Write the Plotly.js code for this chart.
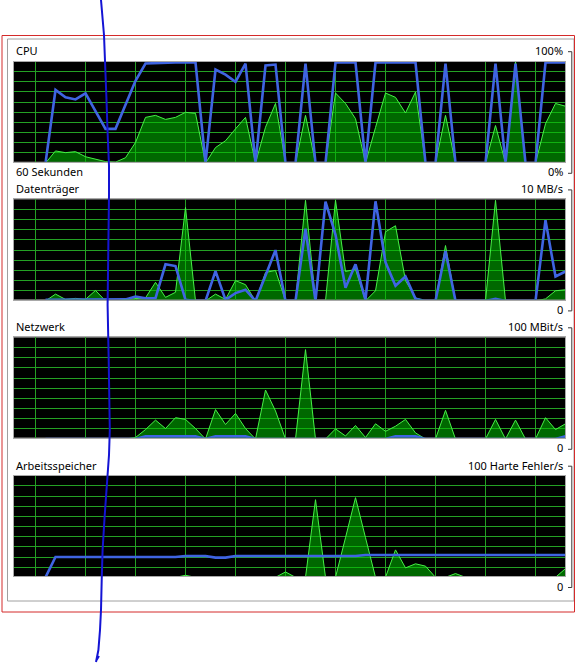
<!DOCTYPE html>
<html>
<head>
<meta charset="utf-8">
<script src="https://cdn.plot.ly/plotly-3.0.1.min.js"></script>
<style>
  html, body { margin: 0; padding: 0; background: #ffffff; }
  #chart { width: 576px; height: 663px; }
</style>
</head>
<body>
<div id="chart"></div>
<script>
// ---- data (one sample per second, newest on the right) ----
const seconds = [0,1,2,3,4,5,6,7,8,9,10,11,12,13,14,15,16,17,18,19,20,21,22,23,24,25,26,27,28,29,30,31,32,33,34,35,36,37,38,39,40,41,42,43,44,45,46,47,48,49,50,51,52];

const panelTitles = ['CPU', 'Datenträger', 'Netzwerk', 'Arbeitsspeicher'];
const panelMaxLabels = ['100%', '10 MB/s', '100 MBit/s', '100 Harte Fehler/s'];
const panelMinLabels = ['0%', '0', '0', '0'];
const timeLabel = '60 Sekunden';

// CPU: usage (green area) and maximum frequency (blue line), in %
const cpuUsage = [0,12,10.3,11.3,6.3,3.7,1.5,1,5.3,20.3,45,47,43,45,50,49,0,15.3,22,33.7,45,0,35.3,58.7,0,0,47,0,0,69,58.7,43.7,0,35,69,64.7,49.3,70,0,0,47,0,0,0,0,37,0,100,0,0,38.7,58.7,56];
const cpuMaxFreq = [0,72,64.7,62.7,68.7,51,33.7,33.7,57,81,98,98.5,98.5,99,99,99,0,92,87,80,98,0,96,97,0,0,98,0,0,99,99,99,0,99,99,99,99,99,0,0,98,0,0,0,0,98,0,98,0,0,99,99,99];

// Datenträger: disk I/O (green area) and highest active time (blue line), in % of scale
const diskIO = [0,6.7,1.5,2.5,1.5,10.3,0,0,1.5,2.5,3,18.3,3.5,8.5,92,0,0,6.7,1.5,20,16,0,28,30,0,0,99,0,0,99,29,31,0,10,68,74,20,3,0,0,54.5,0,0,0,0,99,0,0,0,0,2,10,11];
const diskActive = [1,1,1,1,1,1,1,1,1.5,4.3,2.7,2.7,36,34.3,1,0,0,29.3,1,7.7,11,0,25,50,0,0,71,0,97.7,65,13,36,1,98,38,15,24,2,0,0,49,0,0,0,0,2,0,0,0,0,79.5,24,29];

// Netzwerk: traffic (green area) and utilisation (blue line), in % of scale
const netTraffic = [0,0,0,0,0,0,0,0,0,1.5,9.3,18.6,10.3,21,19.3,10.3,0,29,14.3,25.2,10.3,0,48.2,27.6,0,0,88,0,0,10,3,13.3,1.5,15,7.6,12.6,19.3,6,0,0,28.2,0,0,0,0,19.3,0,18.6,0,0,21,9.3,15];
const netUtil = [0,0,0,0,0,0,0,0,0,0,2.6,2.6,2.8,3.2,3.2,2.6,0,2.6,2.6,2.6,2.6,0,0,0,0,0,0,0,0,0,0,0,0,0,0,2.8,2.8,2.6,0,0,0,0,0,0,0,0,0,0,0,0,0,0,2.6];

// Arbeitsspeicher: hard faults (green area) and used physical memory (blue line), in % of scale
const memHardFaults = [0,0,0,0,0,0,0,0,0,0,0,0,0,0,2,0,0,0,0,0,0,0,0,0,5.3,0,0,76.4,0,0,39,78.4,39,0,0,27,9.3,13.3,11,0,0,3.7,0,0,0,0,0,0,0,0,0,0,8.6];
const memUsed = [0,20,20,20,20,20,20,20,20,20,20,20,20,20,21,21,21,19.4,19.4,21,21,21,21,21,21,21,21,21,21,21,21,21,22,22,22,22,22,22,22,22,22,22,22,22,22,22,22,22,22,22,22,22,22];

// hand-drawn pen stroke over the screenshot (pixel positions)
const penStroke = [[101,0],[104,35],[106.5,100],[107.5,130],[109,166],[109,195],[108.3,250],[107.6,305],[108.7,360],[109.8,430],[109,455],[106.5,490],[104.6,517],[102.6,550],[101.7,580],[101,610],[100,630],[98.4,650],[96,662]];
const penHook = [[96,661],[99,656]];

// ---- layout helpers ----
const W = 576, H = 663;
const px = x => x / W;
const py = y => 1 - y / H;

const plotLeft = 13.6, plotRight = 565.3;
const plotTops = [61.5, 199.3, 337.4, 475.7];
const plotH = 100.3;
const labelTopY = [50.7, 188.9, 326.8, 465.2];
const labelBotY = [171.8, 309.4, 447.8, 586];

const series = [
  [cpuUsage, cpuMaxFreq],
  [diskIO, diskActive],
  [netTraffic, netUtil],
  [memHardFaults, memUsed]
];

const gridX = [-1, 4, 9, 14, 19, 24, 29, 34, 39, 44, 49];
const gridY = [10, 20, 30, 40, 50, 60, 70, 80, 90];

const traces = [];
const layout = {
  width: W, height: H, autosize: false,
  margin: {l: 0, r: 0, t: 0, b: 0, pad: 0},
  paper_bgcolor: '#ffffff',
  plot_bgcolor: '#000000',
  showlegend: false,
  font: {family: 'Noto Sans, Segoe UI, sans-serif', size: 11, color: '#000000'},
  annotations: [],
  shapes: []
};

for (let i = 0; i < 4; i++) {
  const sfx = i === 0 ? '' : String(i + 1);
  const xa = 'x' + sfx, ya = 'y' + sfx;
  const [area, line] = series[i];
  traces.push({
    x: seconds, y: area, xaxis: xa, yaxis: ya, type: 'scatter', mode: 'lines',
    fill: 'tozeroy', fillcolor: 'rgba(0,190,0,0.55)',
    line: {color: '#46f046', width: 1}, hoverinfo: 'skip'
  });
  traces.push({
    x: seconds, y: line, xaxis: xa, yaxis: ya, type: 'scatter', mode: 'lines',
    line: {color: '#3f64e2', width: 2.6}, hoverinfo: 'skip'
  });
  const top = plotTops[i], bot = top + plotH;
  layout['xaxis' + sfx] = {
    domain: [px(plotLeft), px(plotRight)], anchor: ya,
    range: [-3.19, 51.98], fixedrange: true,
    tickmode: 'array', tickvals: gridX, showticklabels: false, ticks: '',
    showgrid: true, gridcolor: '#24a024', gridwidth: 1, zeroline: false,
    showline: true, mirror: true, linecolor: '#a8a8a8', linewidth: 1
  };
  layout['yaxis' + sfx] = {
    domain: [py(bot), py(top)], anchor: xa,
    range: [1.3, 100], fixedrange: true,
    tickmode: 'array', tickvals: gridY, showticklabels: false, ticks: '',
    showgrid: true, gridcolor: '#24a024', gridwidth: 1, zeroline: false,
    showline: true, mirror: true, linecolor: '#a8a8a8', linewidth: 1
  };
  // labels
  layout.annotations.push({xref: 'paper', yref: 'paper', x: px(13.5), y: py(labelTopY[i]), xanchor: 'left', yanchor: 'middle', text: panelTitles[i], showarrow: false});
  layout.annotations.push({xref: 'paper', yref: 'paper', x: px(565), y: py(labelTopY[i]), xanchor: 'right', yanchor: 'middle', text: panelMaxLabels[i], showarrow: false});
  layout.annotations.push({xref: 'paper', yref: 'paper', x: px(565), y: py(labelBotY[i]), xanchor: 'right', yanchor: 'middle', text: panelMinLabels[i], showarrow: false});
  if (i === 0) {
    layout.annotations.push({xref: 'paper', yref: 'paper', x: px(13.5), y: py(labelBotY[i]), xanchor: 'left', yanchor: 'middle', text: timeLabel, showarrow: false});
  }
  // scale bracket on the right
  const bt = labelTopY[i] + 1, bb = labelBotY[i] + 1.5;
  layout.shapes.push({type: 'path', xref: 'paper', yref: 'paper',
    path: `M ${px(568)} ${py(bt)} L ${px(571.8)} ${py(bt)} L ${px(571.8)} ${py(bb)} L ${px(568)} ${py(bb)}`,
    line: {color: '#3a3a3a', width: 1}});
}

// window frame: gray inner border and red outer border
layout.shapes.push({type: 'rect', xref: 'paper', yref: 'paper', x0: px(7.5), x1: px(574), y0: py(601), y1: py(39), line: {color: '#a0a0a0', width: 1}, fillcolor: 'rgba(0,0,0,0)', layer: 'below'});
layout.shapes.push({type: 'rect', xref: 'paper', yref: 'paper', x0: px(2), x1: px(574.5), y0: py(612), y1: py(35.5), line: {color: '#d42a2a', width: 1}, fillcolor: 'rgba(0,0,0,0)'});

// pen stroke
const penPath = penStroke.map((p, j) => (j === 0 ? 'M ' : 'L ') + px(p[0]) + ' ' + py(p[1])).join(' ')
  + ' M ' + px(penHook[0][0]) + ' ' + py(penHook[0][1]) + ' L ' + px(penHook[1][0]) + ' ' + py(penHook[1][1]);
layout.shapes.push({type: 'path', xref: 'paper', yref: 'paper', path: penPath, line: {color: '#1414d4', width: 2}, layer: 'above'});

Plotly.newPlot('chart', traces, layout, {staticPlot: true, displayModeBar: false});
</script>
</body>
</html>
